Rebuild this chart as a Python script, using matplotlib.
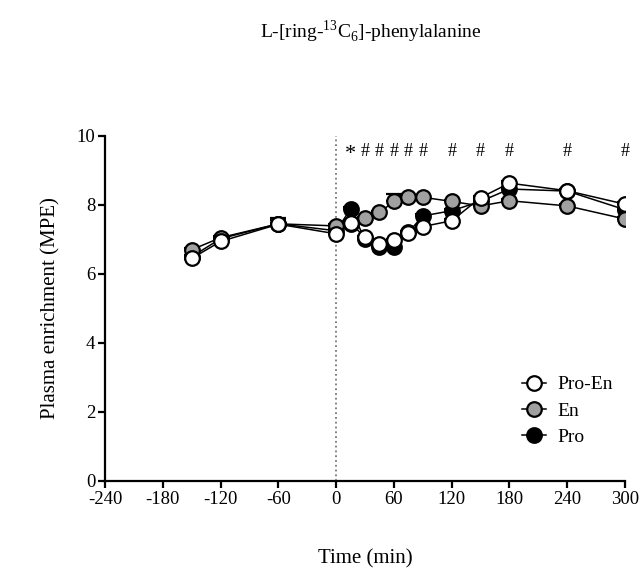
import numpy as np
import matplotlib.pyplot as plt
from matplotlib.lines import Line2D

plt.rcParams['font.family'] = ['Liberation Serif', 'DejaVu Serif']
plt.rcParams['mathtext.fontset'] = 'custom'
plt.rcParams['mathtext.rm'] = 'Liberation Serif'
plt.rcParams['axes.unicode_minus'] = False

# time points (min)
t = [-150, -120, -60, 0, 15, 30, 45, 60, 75, 90, 120, 150, 180, 240, 300]

# plasma enrichment (MPE)
pro = [6.50, 7.02, 7.45, 7.25, 7.88, 7.00, 6.77, 6.77, 7.20, 7.68, 7.83, 8.10, 8.46, 8.40, 7.86]
en = [6.70, 7.05, 7.45, 7.39, 7.45, 7.61, 7.78, 8.10, 8.22, 8.22, 8.10, 7.97, 8.12, 7.97, 7.59]
pro_en = [6.45, 6.94, 7.44, 7.16, 7.47, 7.06, 6.86, 6.97, 7.18, 7.37, 7.54, 8.21, 8.63, 8.41, 8.02]

pro_err = [0.05, 0.05, 0.1, 0.05, 0.05, 0.05, 0.05, 0.05, 0.05, 0.05, 0.05, 0.05, 0.05, 0.05, 0.05]
en_err = [0.05, 0.05, 0.1, 0.05, 0.05, 0.05, 0.05, 0.22, 0.05, 0.05, 0.05, 0.05, 0.05, 0.05, 0.05]
pro_en_err = [0.05, 0.05, 0.18, 0.05, 0.05, 0.05, 0.05, 0.05, 0.05, 0.05, 0.05, 0.05, 0.05, 0.05, 0.05]

star_t = [15]
hash_t = [30, 45, 60, 75, 90, 120, 150, 180, 240, 300]

fig = plt.figure(figsize=(6.41, 5.71), dpi=100)
ax = fig.add_axes([0.164, 0.158, 0.811, 0.604])

ax.axvline(0, ymin=0, ymax=1, color='#777777', ls=':', lw=1.3, zorder=1)

series = [(pro, pro_err, 'black', 'Pro'),
          (en, en_err, '#a0a0a0', 'En'),
          (pro_en, pro_en_err, 'white', 'Pro-En')]
for k, (y, e, c, lab) in enumerate(series):
    ax.errorbar(t, y, yerr=[np.zeros(len(e)), e], color='black', lw=1.1,
                marker='o', ms=10.5, mfc=c, mec='black', mew=1.6,
                capsize=6, capthick=1.6, elinewidth=1.2, zorder=3 + k)

for x in star_t:
    ax.text(x, 9.45, '*', ha='center', va='center', fontsize=16)
for x in hash_t:
    ax.text(x, 9.55, '#', ha='center', va='center', fontsize=13)

ax.set_xlim(-240, 300)
ax.set_ylim(0, 10)
ax.set_xticks(np.arange(-240, 301, 60))
ax.set_yticks(np.arange(0, 11, 2))
ax.spines['top'].set_visible(False)
ax.spines['right'].set_visible(False)
for s in ['left', 'bottom']:
    ax.spines[s].set_linewidth(1.6)
ax.tick_params(width=1.6, length=5, labelsize=13.5, pad=2)

ax.set_xlabel('Time (min)', fontsize=15, labelpad=30)
ax.set_ylabel('Plasma enrichment (MPE)', fontsize=15, labelpad=12)

fig.text(0.578, 0.945, r'L-[ring-$^{13}$C$_6$]-phenylalanine', ha='center',
         va='center', fontsize=14)

leg_handles = [Line2D([], [], color='black', lw=1.1, marker='o', ms=10.5,
                      mfc=c, mec='black', mew=1.6) for c in ['white', '#a0a0a0', 'black']]
ax.legend(leg_handles, ['Pro-En', 'En', 'Pro'], loc='lower right',
          bbox_to_anchor=(1.01, 0.05), frameon=False, fontsize=14,
          handlelength=1.2, handletextpad=0.6, labelspacing=0.45)

fig.savefig('out.png', dpi=100)
